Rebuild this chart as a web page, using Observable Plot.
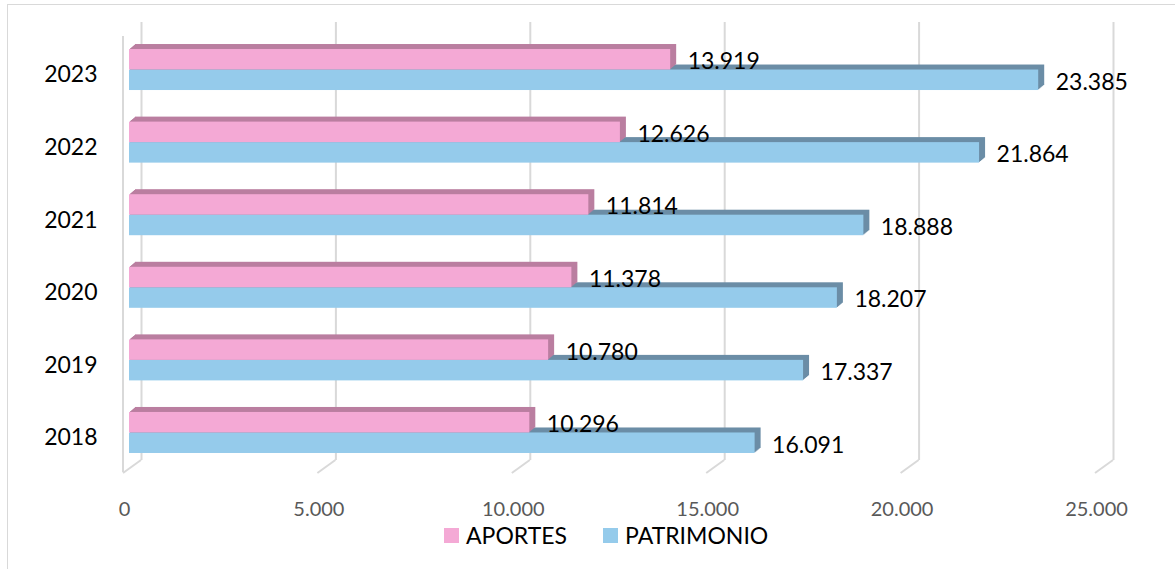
<!DOCTYPE html>
<html><head><meta charset="utf-8">
<script src="https://cdn.jsdelivr.net/npm/d3@7"></script>
<script src="https://cdn.jsdelivr.net/npm/@observablehq/plot@0.6"></script>
<style>
body{margin:0;background:#fff;font-family:Lato,sans-serif;}
#wrap{position:relative;width:1175px;height:569px;overflow:hidden;background:#fff;}
#border{position:absolute;left:7px;top:4px;width:1200px;height:600px;border:1px solid #d9d9d9;}
#chart{position:absolute;left:0;top:0;}
#legend{position:absolute;top:521px;left:444px;display:flex;align-items:center;font-size:23px;color:#000;font-family:Lato,sans-serif;}
.item{display:flex;align-items:center;margin-right:36px;}
.sw{width:15px;height:15px;margin-right:7px;}
</style></head>
<body><div id="wrap"><div id="border"></div><div id="chart"></div><div id="legend"></div></div>
<script>
const years = ["2018","2019","2020","2021","2022","2023"];
const aportes = [10296,10780,11378,11814,12626,13919];
const patrimonio = [16091,17337,18207,18888,21864,23385];
const seriesNames = ["APORTES","PATRIMONIO"];
const seriesColors = ["#F4A9D5","#95CBEB"];
const depthColors = ["#BA7EA0","#6B8DA6"];
const xTicks = [0,5000,10000,15000,20000,25000];

const rows = [];
years.forEach((y,i)=>{
  rows.push({year:y, series:seriesNames[0], value:aportes[i]});
  rows.push({year:y, series:seriesNames[1], value:patrimonio[i]});
});
const pink = rows.filter(d=>d.series===seriesNames[0]);
const blue = rows.filter(d=>d.series===seriesNames[1]);

const W=1175, H=520, mt=30, mb=48, ml=129, mr=74, pi=0.435, po=0.262;
const step = (H-mt-mb)/(years.length - pi + 2*po);
const bw = step*(1-pi), half = bw/2;
const fmt = d3.formatLocale({decimal:",", thousands:".", grouping:[3], currency:["",""]}).format(",d");

function walls(index, scales, values, dims){
  const g = d3.create("svg:g").attr("stroke","#d9d9d9").attr("stroke-width",2).attr("fill","none");
  const yb = dims.height - dims.marginBottom;
  for (const v of xTicks){
    const x = scales.x(v);
    g.append("line").attr("x1",x+12).attr("y1",yb-12).attr("x2",x-6).attr("y2",yb+1);
  }
  const x0 = scales.x(0);
  g.append("line").attr("x1",x0-6).attr("x2",x0-6).attr("y1",dims.marginTop+6).attr("y2",yb);
  return g.node();
}

const depth = (data, color, inset) => d3.range(1,7).map(i =>
  Plot.barX(data, {x:"value", y:"year", fill:color, dx:i, dy:-i*5/6, ...inset}));

const pinkInset = {insetBottom: half};
const blueInset = {insetTop: half};

const plot = Plot.plot({
  width:W, height:H, marginTop:mt, marginBottom:mb, marginLeft:ml, marginRight:mr,
  style:{fontFamily:"Lato, sans-serif", color:"#595959", background:"transparent", overflow:"visible"},
  x:{domain:[0,25000], axis:null},
  y:{domain:years.slice().reverse(), type:"band", paddingInner:pi, paddingOuter:po, round:false, axis:null},
  marks:[
    Plot.ruleX(xTicks, {x:d=>d, stroke:"#d9d9d9", strokeWidth:2, dx:12, dy:-8, insetBottom:4}),
    walls,
    ...depth(blue, depthColors[1], blueInset),
    ...depth(pink, depthColors[0], pinkInset),
    Plot.barX(blue, {x:"value", y:"year", fill:seriesColors[1], ...blueInset}),
    Plot.barX(pink, {x:"value", y:"year", fill:seriesColors[0], ...pinkInset}),
    Plot.text(pink, {x:"value", y:"year", text:d=>fmt(d.value), textAnchor:"start", dx:17, dy:-bw/4+2, fontSize:23, fill:"#000"}),
    Plot.text(blue, {x:"value", y:"year", text:d=>fmt(d.value), textAnchor:"start", dx:17, dy:bw/4+2, fontSize:23, fill:"#000"}),
    Plot.axisX({ticks:xTicks, tickFormat:fmt, tickSize:0, tickPadding:29, dx:-5, fontSize:20, color:"#595959", label:null}),
    Plot.axisY({tickSize:0, tickPadding:32, dy:5, fontSize:23, color:"#000", label:null})
  ]
});
document.getElementById("chart").appendChild(plot);

const lg = document.getElementById("legend");
seriesNames.forEach((n,i)=>{
  const it = document.createElement("div"); it.className="item";
  const sw = document.createElement("div"); sw.className="sw"; sw.style.background=seriesColors[i];
  const t = document.createElement("span"); t.textContent=n;
  it.appendChild(sw); it.appendChild(t); lg.appendChild(it);
});
</script>
</body></html>
